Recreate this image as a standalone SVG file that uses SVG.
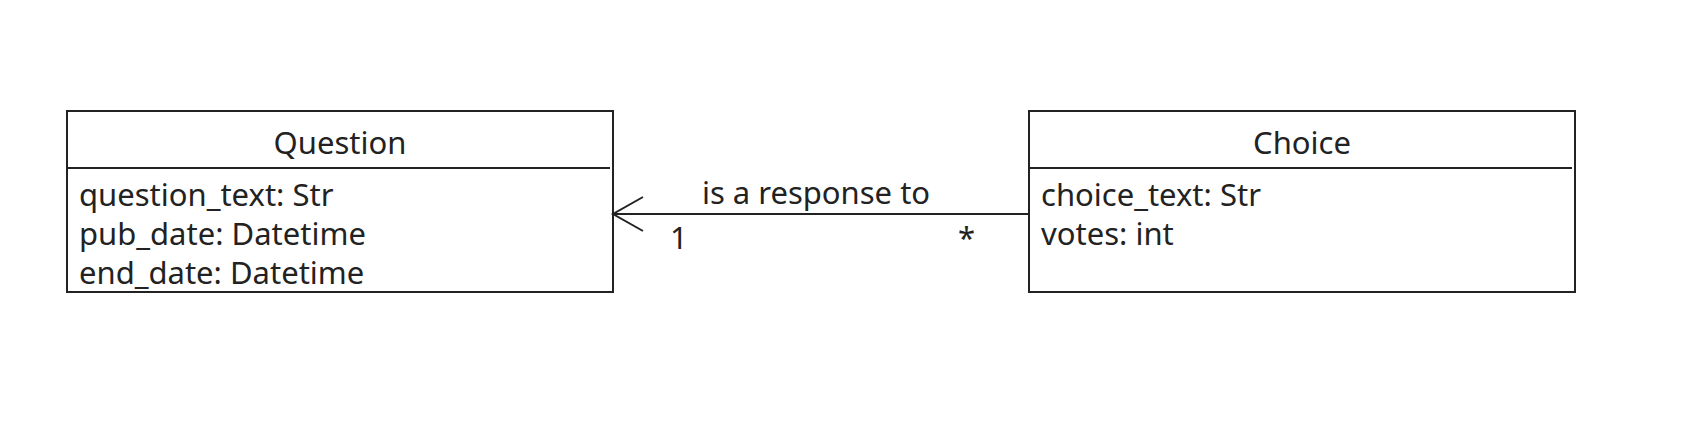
<svg xmlns="http://www.w3.org/2000/svg" width="1704" height="422" viewBox="0 0 1704 422">
<style>
.box{fill:#fff;stroke:#222;stroke-width:2}
.sep{stroke:#222;stroke-width:2}
text{font-family:"Noto Sans","Open Sans",sans-serif;font-size:31px;fill:#222}
.t{text-anchor:middle}
.edge{stroke:#222;stroke-width:2;fill:none}
</style>
<rect width="1704" height="422" fill="#fff"/>
<g id="question">
<rect class="box" x="67" y="111" width="546" height="181"/>
<line class="sep" x1="67" y1="168" x2="610" y2="168"/>
<text class="t" x="340" y="154">Question</text>
<text x="79" y="206">question_text: Str</text>
<text x="79" y="245">pub_date: Datetime</text>
<text x="79" y="284">end_date: Datetime</text>
</g>
<g id="choice">
<rect class="box" x="1029" y="111" width="546" height="181"/>
<line class="sep" x1="1029" y1="168" x2="1572" y2="168"/>
<text class="t" x="1302" y="154">Choice</text>
<text x="1041" y="206">choice_text: Str</text>
<text x="1041" y="245">votes: int</text>
</g>
<g id="connectors">
<line class="edge" x1="1029" y1="214" x2="613" y2="214"/>
<polyline class="edge" points="643,197 613,214 643,231"/>
<text class="t" x="816" y="204">is a response to</text>
<text x="670" y="249">1</text>
<text x="958" y="249">*</text>
</g>
</svg>
